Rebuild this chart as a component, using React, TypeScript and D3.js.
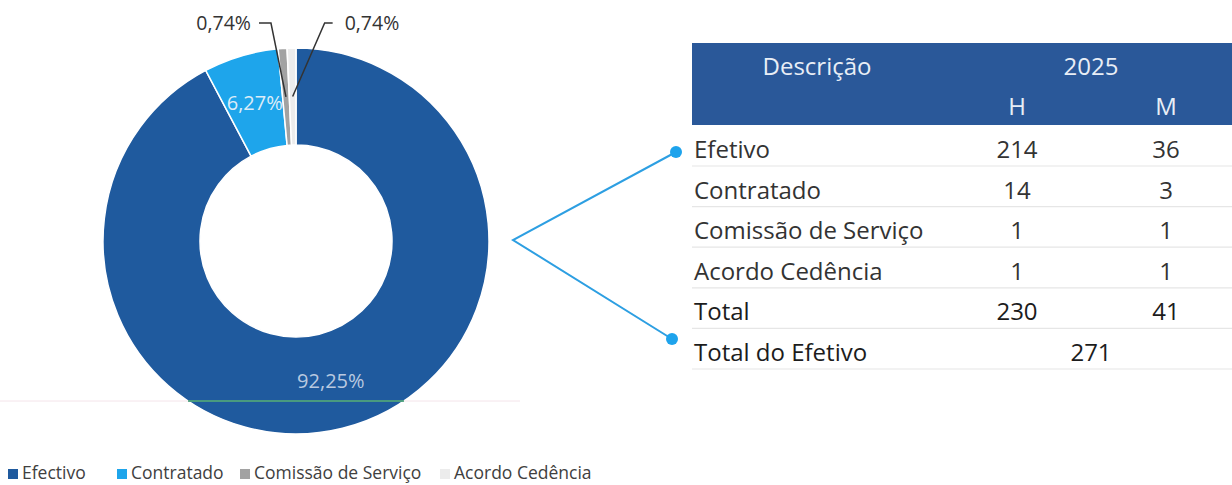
import { useMemo } from "react";
import * as d3 from "d3";

// table / chart values
const categories = ["Efetivo", "Contratado", "Comissão de Serviço", "Acordo Cedência"];
const legendLabels = ["Efectivo", "Contratado", "Comissão de Serviço", "Acordo Cedência"];
const valuesH = [214, 14, 1, 1];
const valuesM = [36, 3, 1, 1];
const headerYear = "2025";
const genderCols = ["H", "M"];
const colors = ["#1f5a9e", "#1ea5eb", "#a2a2a2", "#ececec"];

const W = 1232;
const H = 485;
const cx = 296;
const cy = 241;
const rOuter = 193;
const rInner = 96;
const font = "'Open Sans', sans-serif";

const fmtPct = (v: number, total: number) => ((v / total) * 100).toFixed(2).replace(".", ",") + "%";

export default function App() {
  const totals = categories.map((_, i) => valuesH[i] + valuesM[i]);
  const totalH = d3.sum(valuesH);
  const totalM = d3.sum(valuesM);
  const grand = totalH + totalM;

  const arcs = useMemo(
    () =>
      d3
        .pie<number>()
        .sort(null)
        .value((d) => d)(totals),
    []
  );
  const arc = d3.arc<d3.PieArcDatum<number>>().innerRadius(rInner).outerRadius(rOuter);

  const rows = [...categories, "Total", "Total do Efetivo"];
  const y = d3.scaleBand().domain(rows).range([126, 369.6]);
  const x = d3.scalePoint().domain(genderCols).range([1017, 1166]);

  const legendX = [8, 117, 240, 440];

  // scan line across donut
  const scanY = 401;
  const scanDx = Math.sqrt(rOuter * rOuter - (scanY - cy) * (scanY - cy));

  const vx = 513;
  const vy = 240;
  const dot1 = { x: 676, y: (y("Efetivo") ?? 0) + 26 };
  const dot2 = { x: 672, y: (y("Total do Efetivo") ?? 0) + 10 };

  return (
    <svg width={W} height={H} style={{ position: "absolute", left: 0, top: 0, background: "#fff" }} fontFamily={font}>
      {/* donut */}
      <g transform={`translate(${cx},${cy})`}>
        {arcs.map((a, i) => (
          <path key={i} d={arc(a) ?? ""} fill={colors[i]} stroke="#fff" strokeWidth={1.5} />
        ))}
        {arcs.slice(0, 2).map((a, i) => {
          const [lx, ly] = arc.centroid(a);
          return (
            <text
              key={i}
              x={lx}
              y={ly}
              dy="0.35em"
              textAnchor="middle"
              fontSize={20}
              fill={i === 0 ? "#b9c9e0" : "#dcecf8"}
            >
              {fmtPct(a.value, grand)}
            </text>
          );
        })}
        {arcs.slice(2).map((a, i) => {
          const [lx, ly] = arc.centroid(a);
          const left = i === 0;
          const cornerX = left ? lx - 15 : lx + 32;
          const endX = left ? cornerX - 12 : cornerX + 8;
          const ty = 23 - cy;
          return (
            <g key={i}>
              <polyline
                points={`${lx},${ly} ${cornerX},${ty} ${endX},${ty}`}
                fill="none"
                stroke="#333"
                strokeWidth={1.5}
              />
              <text
                x={left ? endX - 8 : endX + 12}
                y={ty}
                dy="0.35em"
                textAnchor={left ? "end" : "start"}
                fontSize={19.5}
                fill="#333"
              >
                {fmtPct(a.value, grand)}
              </text>
            </g>
          );
        })}
      </g>
      <line x1={0} x2={520} y1={scanY} y2={scanY} stroke="#f4e4ea" strokeWidth={1} />
      <line x1={cx - scanDx} x2={cx + scanDx} y1={scanY} y2={scanY} stroke="#3e9a74" strokeWidth={2} opacity={0.85} />

      {/* connector */}
      <polyline points={`${dot1.x},${dot1.y} ${vx},${vy} ${dot2.x},${dot2.y}`} fill="none" stroke="#2d9fe2" strokeWidth={2} />
      <circle cx={dot1.x} cy={dot1.y} r={6} fill="#1ea3ec" />
      <circle cx={dot2.x} cy={dot2.y} r={6} fill="#1ea3ec" />

      {/* table header */}
      <rect x={692} y={43} width={W - 692} height={82} fill="#2a5899" />
      <text x={817} y={75} textAnchor="middle" fontSize={24} fill="#e8eef6">
        Descrição
      </text>
      <text x={1091} y={75} textAnchor="middle" fontSize={24} fill="#e8eef6">
        {headerYear}
      </text>
      {genderCols.map((g) => (
        <text key={g} x={x(g)} y={115} textAnchor="middle" fontSize={24} fill="#e8eef6">
          {g}
        </text>
      ))}

      {/* table body */}
      {rows.map((r, i) => {
        const y0 = y(r) ?? 0;
        const isTotal = i >= categories.length;
        const col = isTotal ? "#1c1c1c" : "#333";
        const hv = i < categories.length ? valuesH[i] : i === categories.length ? totalH : null;
        const mv = i < categories.length ? valuesM[i] : i === categories.length ? totalM : null;
        return (
          <g key={r}>
            <line x1={692} x2={W} y1={y0 + 40} y2={y0 + 40} stroke="#e6e6e6" strokeWidth={1.2} />
            <text x={694} y={y0 + 32} fontSize={24} fill={col}>
              {r}
            </text>
            {hv !== null && (
              <text x={x("H")} y={y0 + 32} textAnchor="middle" fontSize={24} fill={col}>
                {hv}
              </text>
            )}
            {mv !== null && (
              <text x={x("M")} y={y0 + 32} textAnchor="middle" fontSize={24} fill={col}>
                {mv}
              </text>
            )}
            {hv === null && (
              <text x={1091} y={y0 + 32} textAnchor="middle" fontSize={24} fill={col}>
                {grand}
              </text>
            )}
          </g>
        );
      })}

      {/* legend */}
      {legendLabels.map((l, i) => (
        <g key={l} transform={`translate(${legendX[i]},469)`}>
          <rect width={10} height={10} fill={colors[i]} />
          <text x={14} y={10} fontSize={17.5} fill="#404040">
            {l}
          </text>
        </g>
      ))}
    </svg>
  );
}
